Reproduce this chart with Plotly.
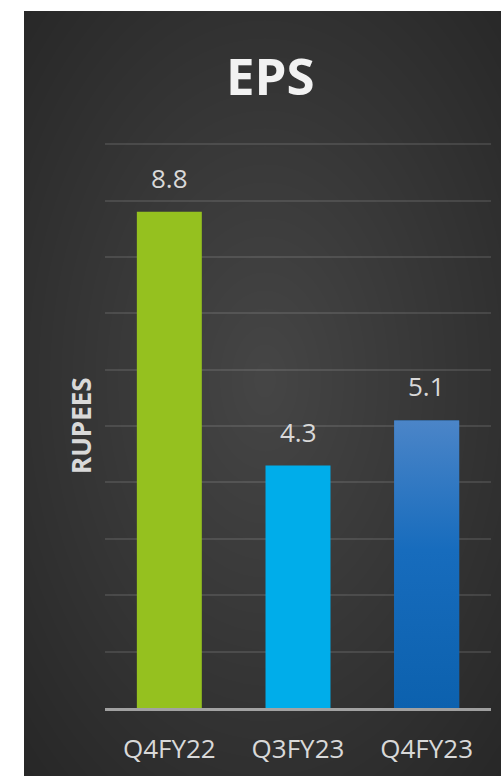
import plotly.graph_objects as go

# EPS by quarter (rupees)
categories = ["Q4FY22", "Q3FY23", "Q4FY23"]
eps_values = [8.8, 4.3, 5.1]
bar_colors = ["#95c11f", "#00adea", "#1a6cbc"]
y_ticks = list(range(0, 11))

W, H = 501, 776
L, R, T, B = 105, 10, 143, 68
PW, PH = W - L - R, H - T - B


def px_x(px):
    return (px - L) / PW


def px_y(py):
    return (H - B - py) / PH


positions = list(range(len(categories)))
bar_width = 0.505

fig = go.Figure()

fig.add_trace(go.Bar(
    x=positions, y=eps_values, width=bar_width,
    marker=dict(color=bar_colors, line=dict(width=0)),
    hoverinfo="skip",
))

# vertical gradient over the last bar
i_last = len(eps_values) - 1
xl, xr = positions[i_last] - bar_width / 2, positions[i_last] + bar_width / 2
fig.add_trace(go.Scatter(
    x=[xl, xr, xr, xl, xl],
    y=[0, 0, eps_values[i_last], eps_values[i_last], 0],
    mode="lines", line=dict(width=0), fill="toself",
    fillgradient=dict(type="vertical",
                      colorscale=[[0, "#0c61ae"], [0.55, "#176cbd"], [1, "#4b85c8"]]),
    hoverinfo="skip",
))

shapes = []
# dark panel
shapes.append(dict(type="rect", xref="paper", yref="paper",
                   x0=px_x(24), x1=px_x(501), y0=px_y(776), y1=px_y(11),
                   fillcolor="#272727", line=dict(width=0), layer="below"))
# soft radial glow
cx, cy = 265, 380
N = 30
for k in range(N):
    f = 1 - k / N
    rx, ry = 340 * f, 540 * f
    shapes.append(dict(type="circle", xref="paper", yref="paper",
                       x0=px_x(cx - rx), x1=px_x(cx + rx),
                       y0=px_y(cy + ry), y1=px_y(cy - ry),
                       fillcolor="rgba(255,255,255,0.0062)", line=dict(width=0),
                       layer="below"))
# white page margins
shapes.append(dict(type="rect", xref="paper", yref="paper",
                   x0=px_x(-50), x1=px_x(24), y0=px_y(900), y1=px_y(-50),
                   fillcolor="white", line=dict(width=0), layer="below"))
shapes.append(dict(type="rect", xref="paper", yref="paper",
                   x0=px_x(-50), x1=px_x(600), y0=px_y(11), y1=px_y(-50),
                   fillcolor="white", line=dict(width=0), layer="below"))

annotations = []
for p, v in zip(positions, eps_values):
    annotations.append(dict(x=p, y=v, xref="x", yref="y", text=f"{v}",
                            showarrow=False, yshift=34,
                            xanchor="center", yanchor="middle",
                            font=dict(family="Open Sans", size=26, color="#d9d9d9")))
annotations.append(dict(x=px_x(270), y=px_y(75), xref="paper", yref="paper",
                        text="<b>EPS</b>", showarrow=False,
                        xanchor="center", yanchor="middle",
                        font=dict(family="Open Sans", size=51, color="#f2f2f2")))
annotations.append(dict(x=px_x(81), y=px_y(426), xref="paper", yref="paper",
                        text="<b>RUPEES</b>", textangle=-90, showarrow=False,
                        xanchor="center", yanchor="middle",
                        font=dict(family="Open Sans", size=26, color="#d9d9d9")))

fig.update_layout(
    width=W, height=H,
    margin=dict(l=L, r=R, t=T, b=B),
    paper_bgcolor="white",
    plot_bgcolor="rgba(0,0,0,0)",
    showlegend=False,
    shapes=shapes,
    annotations=annotations,
    xaxis=dict(range=[-0.5, 2.5], tickvals=positions, ticktext=categories,
               showgrid=False, zeroline=False, showline=True,
               linecolor="rgba(255,255,255,0.55)", linewidth=3,
               ticks="", ticklabelstandoff=16,
               tickfont=dict(family="Open Sans", size=26, color="#d9d9d9")),
    yaxis=dict(range=[0, 10.02], tickvals=y_ticks, showticklabels=False,
               showgrid=True, gridcolor="rgba(255,255,255,0.11)", gridwidth=1.5,
               zeroline=False, showline=False, ticks=""),
)

fig.write_html("out.html")
